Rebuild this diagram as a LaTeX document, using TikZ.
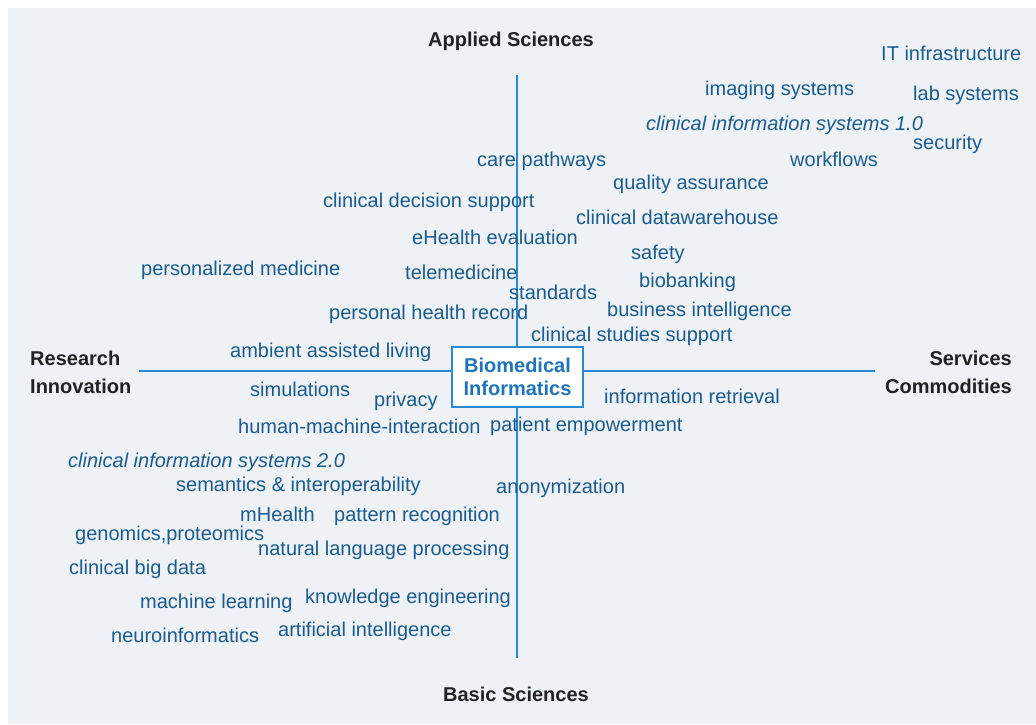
\documentclass[tikz,border=0pt]{standalone}
\usepackage{fontspec}
\setmainfont{Liberation Sans}
\definecolor{bgfill}{HTML}{EEF1F6}
\definecolor{topic}{HTML}{1B5C8F}
\definecolor{axisblue}{HTML}{2A88D4}
\definecolor{corebl}{HTML}{1F74BB}
\definecolor{dimname}{HTML}{222222}
\begin{document}
\begin{tikzpicture}[x=1pt,y=-1pt,
  topic/.style={anchor=base west,inner sep=0pt,text=topic,font=\fontsize{20}{24}\selectfont},
  topicit/.style={topic,font=\fontsize{20}{24}\selectfont\itshape},
  dimlabel/.style={inner sep=0pt,text=dimname,font=\fontsize{20}{28}\selectfont\bfseries},
  axisline/.style={draw=axisblue,line width=1.2pt},
  corebox/.style={draw=axisblue,line width=1.2pt,fill=white,minimum width=131pt,minimum height=60pt,
    inner sep=0pt,align=center,text=corebl,font=\fontsize{20}{23.5}\selectfont\bfseries}]
% canvas
\useasboundingbox (0,0) rectangle (1036,724);
\fill[bgfill] (8,8) rectangle (1036,724);

% axes
\coordinate (ntop) at (517,75);
\coordinate (nbot) at (517,658);
\coordinate (wend) at (139,371);
\coordinate (eend) at (875,371);
\draw[axisline] (ntop) -- (nbot);
\draw[axisline] (wend) -- (eend);

% axis names
\node[dimlabel,anchor=base] (applied) at (511,46) {Applied Sciences};
\node[dimlabel,anchor=base] (basic) at (516,701) {Basic Sciences};
\node[dimlabel,anchor=base west] (research) at (30,365) {Research};
\node[dimlabel,anchor=base west] (innov) at (30,393) {Innovation};
\node[dimlabel,anchor=base east] (services) at (1012,365) {Services};
\node[dimlabel,anchor=base east] (commod) at (1012,393) {Commodities};

% centre
\node[corebox] (bmi) at (517.5,377) {Biomedical\\Informatics};

% upper right
\node[topic] (itinf) at (881,60) {IT infrastructure};
\node[topic] (imaging) at (705,95) {imaging systems};
\node[topic] (lab) at (913,100) {lab systems};
\node[topicit] (cis1) at (646,130) {clinical information systems 1.0};
\node[topic] (security) at (913,149) {security};
\node[topic] (care) at (477,166) {care pathways};
\node[topic] (workflows) at (790,166) {workflows};
\node[topic] (quality) at (613,189) {quality assurance};
\node[topic] (cds) at (323,207) {clinical decision support};
\node[topic] (cdw) at (576,224) {clinical datawarehouse};
\node[topic] (ehealth) at (412,244) {eHealth evaluation};
\node[topic] (safety) at (631,259) {safety};
\node[topic] (persmed) at (141,275) {personalized medicine};
\node[topic] (telemed) at (405,279) {telemedicine};
\node[topic] (biobank) at (639,287) {biobanking};
\node[topic] (standards) at (509,299) {standards};
\node[topic] (phr) at (329,319) {personal health record};
\node[topic] (bi) at (607,316) {business intelligence};
\node[topic] (css) at (531,341) {clinical studies support};
\node[topic] (aal) at (230,357) {ambient assisted living};

% lower half
\node[topic] (sim) at (250,396) {simulations};
\node[topic] (privacy) at (374,406) {privacy};
\node[topic] (ir) at (604,403) {information retrieval};
\node[topic] (hmi) at (238,433) {human-machine-interaction};
\node[topic] (pe) at (490,431) {patient empowerment};
\node[topicit] (cis2) at (68,467) {clinical information systems 2.0};
\node[topic] (sem) at (176,491) {semantics \& interoperability};
\node[topic] (anon) at (496,493) {anonymization};
\node[topic] (mhealth) at (240,521) {mHealth};
\node[topic] (pattern) at (334,521) {pattern recognition};
\node[topic] (genomics) at (75,540) {genomics,proteomics};
\node[topic] (nlp) at (258,555) {natural language processing};
\node[topic] (bigdata) at (69,574) {clinical big data};
\node[topic] (ml) at (140,608) {machine learning};
\node[topic] (ke) at (305,603) {knowledge engineering};
\node[topic] (neuro) at (111,642) {neuroinformatics};
\node[topic] (ai) at (278,636) {artificial intelligence};
\end{tikzpicture}
\end{document}
